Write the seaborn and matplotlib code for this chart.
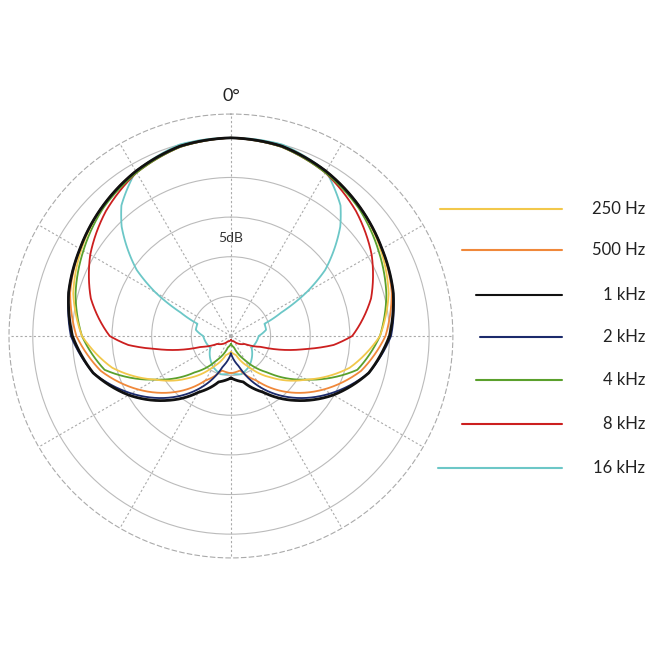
import numpy as np
import pandas as pd
import matplotlib
matplotlib.use("Agg")
import matplotlib.pyplot as plt
import seaborn as sns
from matplotlib.lines import Line2D

sns.set_style("white")
plt.rcParams['font.family'] = ['Lato', 'DejaVu Sans']

# radius in units of (dB + 25); angles in degrees, one side (mirrored)
ang_250 = [0, 15, 30, 45, 60, 75, 90, 105, 120, 135, 150, 165, 180]
r_250 = [25, 24.8, 24.0, 23.0, 21.8, 20.6, 18.8, 15.5, 11.0, 7.5, 4.5, 2.5, 2.0]
ang_500 = [0, 15, 30, 45, 60, 75, 90, 105, 120, 135, 150, 165, 180]
r_500 = [25, 24.8, 24.0, 23.0, 22.0, 21.0, 19.5, 17.0, 13.5, 10.0, 6.5, 4.5, 4.7]
ang_1k = [0, 15, 30, 45, 60, 75, 90, 105, 120, 135, 150, 165, 180]
r_1k = [25, 24.8, 24.0, 23.0, 22.0, 21.2, 20.0, 18.0, 14.9, 11.5, 8.2, 6.0, 5.3]
ang_2k = [0, 15, 30, 45, 60, 75, 90, 105, 120, 135, 150, 165, 180]
r_2k = [25, 24.8, 24.0, 23.0, 22.0, 21.2, 20.2, 18.0, 14.5, 11.0, 7.5, 4.0, 2.2]
ang_4k = [0, 15, 30, 45, 60, 75, 90, 105, 120, 135, 150, 165, 180]
r_4k = [25, 24.7, 23.8, 22.8, 21.5, 20.3, 18.8, 16.5, 11.0, 6.5, 3.5, 1.5, 1.0]
ang_8k = [0, 15, 30, 45, 60, 75, 90, 95, 100, 110, 120, 150, 180]
r_8k = [25, 24.7, 23.8, 22.3, 20.5, 18.3, 15.3, 13.0, 9.5, 4.0, 2.0, 0.8, 0.5]
ang_16k = [0, 15, 30, 40, 45, 50, 55, 60, 65, 70, 80, 90, 120, 150, 165, 180]
r_16k = [25, 25, 24, 21.5, 19.5, 17, 14.5, 11, 7, 4.5, 4.5, 3.5, 3.0, 4.5, 5.0, 4.7]

labels = ["250 Hz", "500 Hz", "1 kHz", "2 kHz", "4 kHz", "8 kHz", "16 kHz"]
colors = ["#f2c84b", "#f0883a", "#111111", "#1b2a6b", "#5aa02c", "#cc1f1f", "#6cc7c7"]
series = [(ang_250, r_250), (ang_500, r_500), (ang_1k, r_1k), (ang_2k, r_2k),
          (ang_4k, r_4k), (ang_8k, r_8k), (ang_16k, r_16k)]

rows = []
for lab, (a, r) in zip(labels, series):
    a = np.array(a, float); r = np.array(r, float)
    full_a = np.concatenate([-a[::-1], a[1:]])
    full_r = np.concatenate([r[::-1], r[1:]])
    for i, (aa, rr) in enumerate(zip(full_a, full_r)):
        rows.append({"theta": np.deg2rad(aa), "r": rr, "freq": lab, "i": i})
df = pd.DataFrame(rows)

fig = plt.figure(figsize=(6.48, 6.48), dpi=100)
ax = fig.add_axes([0.0139, 0.139, 0.685, 0.685], projection="polar")
ax.set_theta_zero_location("N")
ax.set_theta_direction(-1)
ax.set_ylim(0, 28)
ax.set_rticks([5, 10, 15, 20, 25])
ax.set_yticklabels([])
ax.set_xticks(np.deg2rad(np.arange(0, 360, 30)))
ax.set_xticklabels([])
ax.yaxis.grid(True, color="#bbbbbb", lw=0.8, ls="-")
ax.xaxis.grid(True, color="#aaaaaa", lw=0.8, ls=(0, (2, 2)))
ax.spines["polar"].set_linestyle((0, (4, 3)))
ax.spines["polar"].set_color("#aaaaaa")
ax.spines["polar"].set_linewidth(0.8)

order = ["16 kHz", "8 kHz", "4 kHz", "250 Hz", "500 Hz", "2 kHz", "1 kHz"]
for lab in order:
    sub = df[df.freq == lab]
    c = colors[labels.index(lab)]
    lw = 2.0 if lab == "1 kHz" else 1.3
    n0 = len(ax.lines)
    sns.lineplot(data=sub, x="theta", y="r", sort=False, estimator=None,
                 color=c, lw=lw, ax=ax, legend=False)
    for ln in ax.lines[n0:]:
        ln.get_path()._interpolation_steps = 40
ax.set_xlabel(""); ax.set_ylabel("")

ax.text(0, 12.4, "5dB", ha="center", va="center", fontsize=10, color="#333333")
fig.text(0.357, 0.852, "0°", ha="center", va="center", fontsize=13, color="#222222")

ys = [209, 250, 295, 337, 380, 424, 468]
starts = [440, 462, 476, 480, 476, 462, 438]
for lab, c, y, s in zip(labels, colors, ys, starts):
    yf = 1 - y / 648
    fig.add_artist(Line2D([s / 648, 562 / 648], [yf, yf], color=c, lw=1.5))
    fig.text(645 / 648, yf, lab, ha="right", va="center", fontsize=12, color="#222222")

fig.savefig("out.png", dpi=100)
